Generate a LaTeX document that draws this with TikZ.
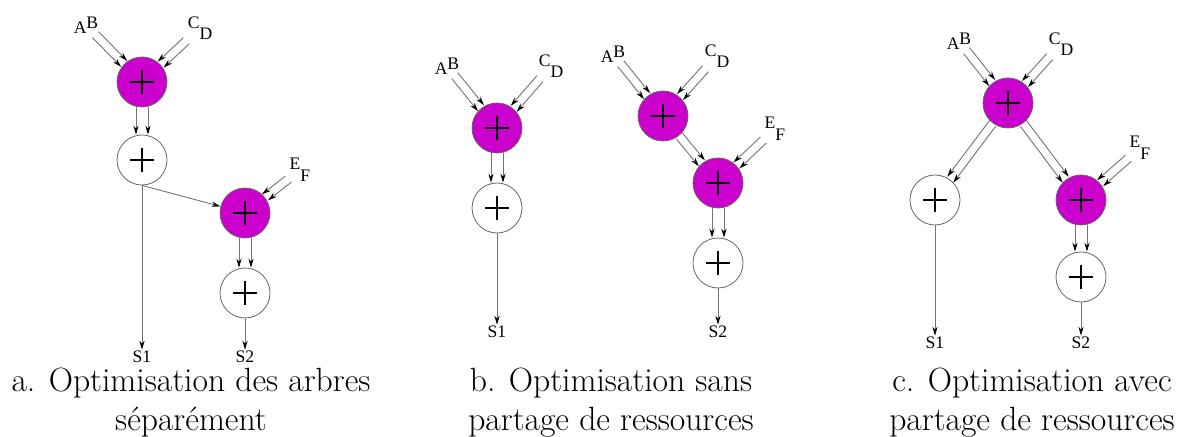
\documentclass[tikz,border=0pt]{standalone}
\usepackage{fontspec}
\newfontfamily\timesfont{Liberation Serif}
\usetikzlibrary{arrows.meta}
\definecolor{opmagenta}{RGB}{204,0,204}

\begin{document}
\begin{tikzpicture}[x=0.5pt, y=-0.5pt,
    adder/.style={circle, draw=black!60, line width=0.4pt, fill=white, minimum size=25pt, inner sep=0pt,
        path picture={\draw[black, line width=1pt] ([xshift=-5.8pt]path picture bounding box.center) -- ([xshift=5.8pt]path picture bounding box.center)
            ([yshift=-5.8pt]path picture bounding box.center) -- ([yshift=5.8pt]path picture bounding box.center);}},
    shared/.style={adder, fill=opmagenta},
    port/.style={font=\timesfont\fontsize{8.8}{8.8}\selectfont, inner sep=0.5pt},
    arrow/.style={-{Stealth[length=4.5pt, width=2.6pt, color=black]}, draw=black!55, line width=0.45pt},
    dn/.style={arrow, transform canvas={xshift=#1*3pt}},
    dr/.style={arrow, transform canvas={shift={(#1*1.5pt, #1*1.5pt)}}},
    dl/.style={arrow, transform canvas={shift={(#1*1.5pt, #1*-1.5pt)}}},
    caption/.style={align=center, font=\fontsize{16.8}{19.5}\selectfont, anchor=base, inner sep=0pt}
]
\useasboundingbox (0,0) rectangle (1191,437);

% a. separate trees
\node[shared] (sumA1) at (142, 82) {};
\node[adder] (sumA2) at (142, 160) {};
\node[shared] (sumA3) at (245, 213) {};
\node[adder] (sumA4) at (245, 293) {};
\node[port] (inA1) at (86, 25) {A\raisebox{2.5pt}{B}};
\node[port] (inA2) at (200, 28) {C\raisebox{-5.5pt}{D}};
\node[port] (inA3) at (300, 170) {E\raisebox{-6pt}{F}};
\node[port] (outA1) at (142, 357) {S1};
\node[port] (outA2) at (245, 357) {S2};

\foreach \s in {-1,1} {
    \draw[dr=\s] (inA1) -- (sumA1);
    \draw[dl=\s] (inA2) -- (sumA1);
    \draw[dn=\s] (sumA1) -- (sumA2);
    \draw[dl=\s] (inA3) -- (sumA3);
    \draw[dn=\s] (sumA3) -- (sumA4);
}
\draw[arrow] (sumA2.south) -- (sumA3);
\draw[arrow] (sumA2) -- (outA1);
\draw[arrow] (sumA4) -- (outA2);

\node[caption] (capA) at (191, 431) {a. Optimisation des arbres\\séparément};

% b. no sharing
\node[shared] (sumB1) at (497, 128) {};
\node[adder] (sumB2) at (497, 208) {};
\node[shared] (sumB3) at (663, 116) {};
\node[shared] (sumB4) at (718, 183) {};
\node[adder] (sumB5) at (718, 263) {};
\node[port] (inB1) at (447, 66) {A\raisebox{2.5pt}{B}};
\node[port] (inB2) at (551, 66) {C\raisebox{-5.5pt}{D}};
\node[port] (inB3) at (613, 54) {A\raisebox{2.5pt}{B}};
\node[port] (inB4) at (717, 56) {C\raisebox{-5.5pt}{D}};
\node[port] (inB5) at (775, 129) {E\raisebox{-6pt}{F}};
\node[port] (outB1) at (497, 332) {S1};
\node[port] (outB2) at (718, 332) {S2};

\foreach \s in {-1,1} {
    \draw[dr=\s] (inB1) -- (sumB1);
    \draw[dl=\s] (inB2) -- (sumB1);
    \draw[dn=\s] (sumB1) -- (sumB2);
    \draw[dr=\s] (inB3) -- (sumB3);
    \draw[dl=\s] (inB4) -- (sumB3);
    \draw[dr=\s] (sumB3) -- (sumB4);
    \draw[dl=\s] (inB5) -- (sumB4);
    \draw[dn=\s] (sumB4) -- (sumB5);
}
\draw[arrow] (sumB2) -- (outB1);
\draw[arrow] (sumB5) -- (outB2);

\node[caption] (capB) at (611, 431) {b. Optimisation sans\\partage de ressources};

% c. shared resources
\node[shared] (sumC1) at (1008, 103) {};
\node[adder] (sumC2) at (935, 200) {};
\node[shared] (sumC3) at (1081, 200) {};
\node[adder] (sumC4) at (1081, 277) {};
\node[port] (inC1) at (959, 41) {A\raisebox{2.5pt}{B}};
\node[port] (inC2) at (1061, 44) {C\raisebox{-5.5pt}{D}};
\node[port] (inC3) at (1140, 148) {E\raisebox{-6pt}{F}};
\node[port] (outC1) at (935, 343) {S1};
\node[port] (outC2) at (1081, 343) {S2};

\foreach \s in {-1,1} {
    \draw[dr=\s] (inC1) -- (sumC1);
    \draw[dl=\s] (inC2) -- (sumC1);
    \draw[dl=\s] (sumC1) -- (sumC2);
    \draw[dr=\s] (sumC1) -- (sumC3);
    \draw[dl=\s] (inC3) -- (sumC3);
    \draw[dn=\s] (sumC3) -- (sumC4);
}
\draw[arrow] (sumC2) -- (outC1);
\draw[arrow] (sumC4) -- (outC2);

\node[caption] (capC) at (1032, 431) {c. Optimisation avec\\partage de ressources};

\end{tikzpicture}
\end{document}
